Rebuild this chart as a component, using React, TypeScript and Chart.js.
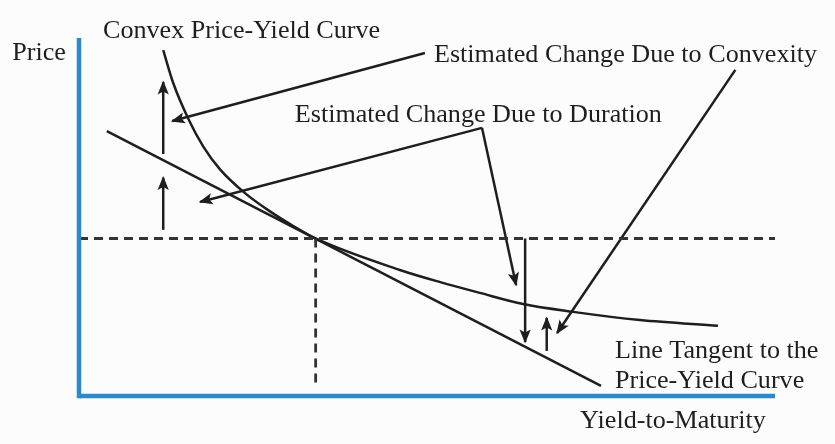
import React, { useEffect, useRef } from "react";
import { Chart, registerables } from "chart.js";
Chart.register(...registerables);

// Convex price-yield curve (yield, price) in diagram units 0..100
const curveYield = [12.1, 13.55, 15.7, 17.86, 20.26, 23.85, 27.44, 30.79, 34.0, 46.1, 51.9, 57.6, 63.8, 71.0, 80.6, 91.8];
const curvePrice = [96.6, 87.35, 77.46, 69.68, 63.32, 56.68, 51.58, 47.49, 44.0, 35.2, 31.8, 28.8, 25.7, 23.5, 21.2, 19.6];

// Tangent line
const tangentYield = [4, 75];
const tangentPrice = [74, 2.8];

// Reference (tangency) point
const refYield = 34;
const refPrice = 44;

// Axis ranges
const axisYield = [0, 100];
const axisPrice = [0, 100];

// Arrows: from -> to (head at "to")
const arrowFromYield = [12.1, 12.1, 64.1, 67.2, 49.7, 57.9, 57.9, 94.3];
const arrowFromPrice = [67.6, 46.4, 44.0, 12.6, 95.8, 74.9, 74.9, 91.1];
const arrowToYield = [12.1, 12.1, 64.1, 67.2, 13.4, 17.4, 62.8, 68.7];
const arrowToPrice = [87.7, 61.0, 15.1, 21.8, 76.8, 54.2, 31.0, 17.6];

// Text labels and their anchors (left, baseline)
const textLabels = [
  "Price",
  "Convex Price-Yield Curve",
  "Estimated Change Due to Convexity",
  "Estimated Change Due to Duration",
  "Line Tangent to the",
  "Price-Yield Curve",
  "Yield-to-Maturity",
];
const textYield = [-9.6, 3.45, 51.0, 31.0, 77.0, 77.0, 72.0];
const textPrice = [93.9, 100.0, 93.3, 76.5, 10.6, 2.2, -8.9];

const BLUE = "#2a8bc8";
const INK = "#1e1e1e";

export default function App() {
  const ref = useRef<HTMLCanvasElement | null>(null);
  useEffect(() => {
    document.body.style.margin = "0";
    const canvas = ref.current;
    if (!canvas) return;

    const pts = (xs: number[], ys: number[]) => xs.map((x, i) => ({ x, y: ys[i] }));

    const lineDs = (data: any[], color: string, width: number, extra: any = {}) => ({
      data,
      showLine: true,
      borderColor: color,
      borderWidth: width,
      pointRadius: 0,
      pointHoverRadius: 0,
      fill: false,
      clip: false,
      ...extra,
    });

    const datasets: any[] = [
      lineDs([{ x: axisYield[0], y: axisPrice[0] }, { x: axisYield[1], y: axisPrice[0] }], BLUE, 4.5),
      lineDs([{ x: axisYield[0], y: axisPrice[0] - 0.6 }, { x: axisYield[0], y: axisPrice[1] }], BLUE, 4.5),
      lineDs([{ x: axisYield[0], y: refPrice }, { x: axisYield[1], y: refPrice }], "#333333", 2.8, { borderDash: [9, 6] }),
      lineDs([{ x: refYield, y: refPrice }, { x: refYield, y: 2.2 }], "#333333", 2.8, { borderDash: [9, 6] }),
      lineDs(pts(curveYield, curvePrice), INK, 2.5, { cubicInterpolationMode: "monotone" }),
      lineDs(pts(tangentYield, tangentPrice), INK, 2.5),
    ];
    arrowFromYield.forEach((fx, i) => {
      datasets.push(
        lineDs(
          [
            { x: fx, y: arrowFromPrice[i] },
            { x: arrowToYield[i], y: arrowToPrice[i] },
          ],
          INK,
          2.5
        )
      );
    });

    const annot = {
      id: "annot",
      beforeDraw(chart: any) {
        const c = chart.ctx;
        c.save();
        c.fillStyle = "#fcfcfc";
        c.fillRect(0, 0, chart.width, chart.height);
        c.restore();
      },
      afterDatasetsDraw(chart: any) {
        const c = chart.ctx;
        const xs = chart.scales.x;
        const ys = chart.scales.y;
        c.save();
        c.fillStyle = INK;
        arrowFromYield.forEach((fx, i) => {
          const x0 = xs.getPixelForValue(fx);
          const y0 = ys.getPixelForValue(arrowFromPrice[i]);
          const x1 = xs.getPixelForValue(arrowToYield[i]);
          const y1 = ys.getPixelForValue(arrowToPrice[i]);
          const a = Math.atan2(y1 - y0, x1 - x0);
          c.save();
          c.translate(x1, y1);
          c.rotate(a);
          c.beginPath();
          c.moveTo(1.5, 0);
          c.lineTo(-12.5, -5.6);
          c.lineTo(-9.5, 0);
          c.lineTo(-12.5, 5.6);
          c.closePath();
          c.fill();
          c.restore();
        });
        c.fillStyle = INK;
        c.font = "25px 'Liberation Serif'";
        c.textAlign = "left";
        c.textBaseline = "alphabetic";
        textLabels.forEach((t, i) => {
          c.save();
          c.translate(xs.getPixelForValue(textYield[i]), ys.getPixelForValue(textPrice[i]));
          c.scale(1.045, 1);
          c.fillText(t, 0, 0);
          c.restore();
        });
        c.restore();
      },
    };

    const chart = new Chart(canvas, {
      type: "scatter",
      data: { datasets },
      options: {
        responsive: false,
        animation: false,
        events: [],
        layout: { padding: { left: 79, right: 60, top: 38, bottom: 48 } },
        scales: {
          x: { type: "linear", min: axisYield[0], max: axisYield[1], display: false },
          y: { type: "linear", min: axisPrice[0], max: axisPrice[1], display: false },
        },
        plugins: { legend: { display: false }, tooltip: { enabled: false } },
      },
      plugins: [annot],
    });
    return () => chart.destroy();
  }, []);

  return (
    <div style={{ width: 835, height: 444 }}>
      <canvas ref={ref} width={835} height={444} style={{ display: "block" }} />
    </div>
  );
}
